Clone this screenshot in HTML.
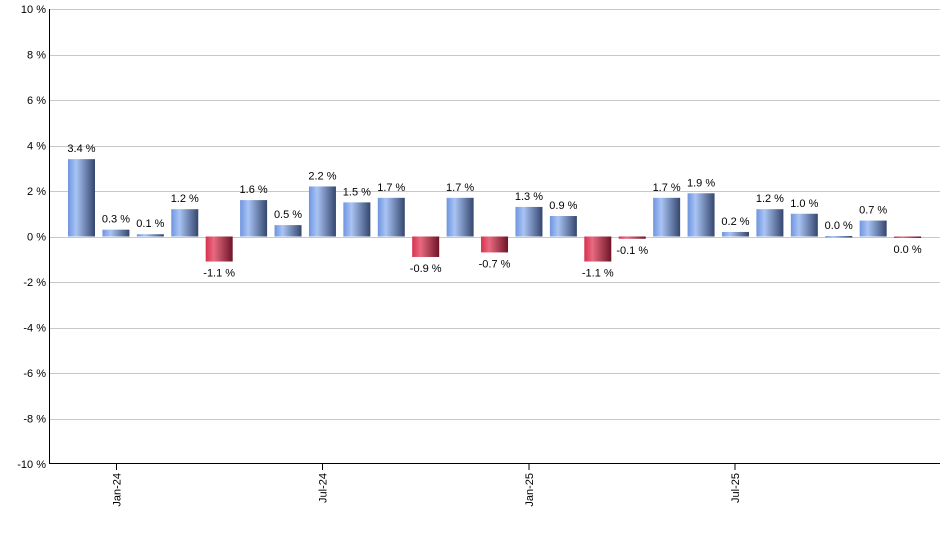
<!DOCTYPE html><html><head><style>body{margin:0;background:#fff}svg{display:block;font-family:"Liberation Sans",sans-serif}</style></head><body>
<svg width="940" height="550" xmlns="http://www.w3.org/2000/svg">
<defs>
<linearGradient id="b" x1="0" x2="1"><stop offset="0" stop-color="#6f95e0"/><stop offset="0.3" stop-color="#a9c4f4"/><stop offset="1" stop-color="#34466e"/></linearGradient>
<linearGradient id="r" x1="0" x2="1"><stop offset="0" stop-color="#d8304e"/><stop offset="0.3" stop-color="#e86a80"/><stop offset="1" stop-color="#6e1428"/></linearGradient>
</defs>
<g id="grid" stroke="#c8c8c8" stroke-width="1"></g>
<g id="bars"></g>
<line x1="49.5" y1="9" x2="49.5" y2="464" stroke="#000"/>
<line x1="49" y1="463.5" x2="940" y2="463.5" stroke="#000"/>
<g id="lab" font-size="11" fill="#000"></g>
</svg>
<script>
var ns="http://www.w3.org/2000/svg",s=document.querySelector('svg');
function el(t,a,p,txt){var e=document.createElementNS(ns,t);for(var k in a)e.setAttribute(k,a[k]);if(txt!=null)e.textContent=txt;(p||s).appendChild(e);return e;}
var g=document.getElementById('grid'),bg=document.getElementById('bars'),lg=document.getElementById('lab');
function Y(v){return 236.5-v*22.75;}
for(var v=-10;v<=10;v+=2){var y=Math.round(Y(v))+0.5;if(v>-10)el('line',{x1:50,x2:940,y1:y,y2:y},g);el('text',{x:46,y:Y(v)+4,'text-anchor':'end','font-size':11},lg,v+' %');}
var d=[3.4,0.3,0.1,1.2,-1.1,1.6,0.5,2.2,1.5,1.7,-0.9,1.7,-0.7,1.3,0.9,-1.1,-0.1,1.7,1.9,0.2,1.2,1.0,0.02,0.7,-0.02];
d.forEach(function(v,i){var c=81.5+i*34.42,x=c-13.5,y0=Y(0),y1=Y(v);var top=Math.min(y0,y1),h=Math.max(Math.abs(y1-y0),1.5);
el('rect',{x:x,y:top,width:27,height:h,fill:v>=0?'url(#b)':'url(#r)'},bg);
var t=(Math.abs(v)<0.05?'0.0':v.toFixed(1))+' %';
el('text',{x:c,y:v>=0?top-7:top+h+15,'text-anchor':'middle'},lg,t);});
[[116.5,'Jan-24'],[322.5,'Jul-24'],[529,'Jan-25'],[735,'Jul-25']].forEach(function(a){el('line',{x1:a[0],x2:a[0],y1:464,y2:470,stroke:'#000'});el('text',{x:0,y:0,transform:'translate('+(a[0]+4)+',473) rotate(-90)','text-anchor':'end','font-size':11},lg,a[1]);});
</script></body></html>
